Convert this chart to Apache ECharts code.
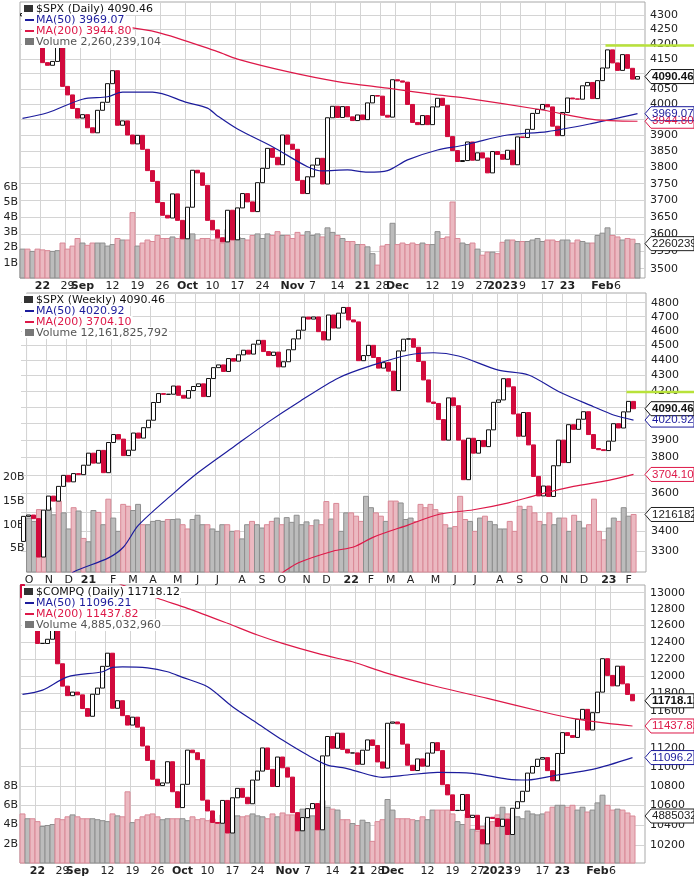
<!DOCTYPE html>
<html>
<head>
<meta charset="utf-8">
<script src="https://cdn.jsdelivr.net/npm/echarts@6/dist/echarts.min.js"></script>
<style>
  html, body { margin: 0; padding: 0; background: #fff; }
  #main { width: 694px; height: 878px; }
</style>
</head>
<body>
<div id="main"></div>
<script>
// trading calendar
const holidays = ['2022-09-05', '2022-11-24', '2022-12-26', '2023-01-02', '2023-01-16'];

// $SPX daily closes, Aug 16 2022 .. Feb 10 2023 (first open = Aug 15 close)
const spxPrevClose = 4297;
const spxClose = [
  4305, 4274, 4284, 4228,
  4137, 4128, 4141, 4199, 4058,
  4030, 3986, 3955, 3966, 3924,
  3908, 3980, 4006, 4067,
  4110, 3932, 3946, 3901, 3873,
  3900, 3856, 3790, 3757, 3693,
  3655, 3647, 3719, 3640, 3586,
  3679, 3791, 3783, 3745, 3640,
  3612, 3589, 3577, 3670, 3583,
  3677, 3720, 3695, 3666, 3753,
  3797, 3859, 3831, 3808, 3901,
  3872, 3856, 3760, 3720, 3771,
  3807, 3828, 3749, 3956, 3993,
  3957, 3992, 3959, 3947, 3965,
  3950, 4004, 4028, 4026,
  3964, 3958, 4080, 4076, 4072,
  3999, 3941, 3934, 3963, 3934,
  3991, 4019, 3996, 3896, 3852,
  3818, 3821, 3879, 3822, 3845,
  3829, 3783, 3849, 3840,
  3825, 3853, 3808, 3895,
  3893, 3919, 3970, 3983, 3999,
  3991, 3929, 3899, 3973,
  4020, 4017, 4016, 4060, 4071,
  4018, 4077, 4119, 4180, 4136,
  4111, 4164, 4118, 4082, 4090.46
];
// volume, billions
const spxVolume = [
  1.9, 1.9, 1.75, 1.9,
  1.85, 1.8, 1.75, 1.8, 2.3,
  1.9, 2.1, 2.6, 2.3, 2.15,
  2.3, 2.3, 2.3, 2.1,
  2.2, 2.6, 2.5, 2.5, 4.3,
  2.1, 2.3, 2.5, 2.4, 2.8,
  2.6, 2.6, 2.7, 2.6, 2.8,
  2.9, 2.9, 2.5, 2.6, 2.6,
  2.5, 2.6, 2.3, 3.2, 2.6,
  2.7, 2.6, 2.5, 2.8, 2.9,
  2.6, 2.9, 2.8, 3.05, 2.8,
  2.8, 2.6, 3.0, 2.8, 3.05,
  2.8, 2.9, 2.7, 3.3, 3.0,
  2.8, 2.6, 2.4, 2.4, 2.2,
  2.2, 2.05, 1.6, 0.85,
  2.1, 2.2, 3.6, 2.2, 2.3,
  2.2, 2.3, 2.2, 2.3, 2.2,
  2.2, 3.05, 2.6, 2.7, 5.0,
  2.6, 2.3, 2.2, 2.3, 1.9,
  1.5, 1.7, 1.7, 1.6,
  2.35, 2.5, 2.5, 2.4,
  2.4, 2.4, 2.5, 2.6, 2.4,
  2.5, 2.5, 2.4, 2.5,
  2.5, 2.3, 2.5, 2.4, 2.3,
  2.3, 2.8, 2.95, 3.3, 2.8,
  2.7, 2.5, 2.6, 2.55, 2.260239104
];
// moving averages, [day index, value]
const spxMa50 = [[0, 3954], [5, 3972], [12, 4016], [17, 4024], [20, 4039], [26, 4039], [33, 4005], [37, 3987],
  [39, 3962], [43, 3920], [50, 3864], [57, 3802], [60, 3789], [65, 3792], [69, 3785], [73, 3790], [77, 3823],
  [83, 3854], [88, 3868], [90, 3876], [97, 3901], [105, 3912], [114, 3938], [123, 3969.07]];
const spxMa200 = [[10, 4292], [16, 4271], [27, 4240], [39, 4174], [43, 4149], [53, 4107], [63, 4074], [73, 4052],
  [83, 4030], [89, 4019], [104, 3981], [114, 3951], [123, 3944.80]];

// $SPX weekly closes, weeks ending Oct 9 2020 .. Feb 10 2023 (first open = Oct 2 close)
const wkPrevClose = 3348;
const wkClose = [
  3477, 3484, 3465, 3270, 3510, 3585, 3558, 3638, 3699, 3663, 3709, 3703, 3756,
  3825, 3768, 3841, 3714, 3887, 3934, 3907, 3811, 3842, 3943, 3913, 3975, 4020, 4129, 4185, 4180, 4181, 4233,
  4174, 4156, 4204, 4230, 4247, 4166, 4281, 4352, 4370, 4327, 4412, 4395, 4437, 4468, 4442, 4509, 4535, 4459,
  4433, 4455, 4357, 4391, 4471, 4545, 4605, 4697, 4683, 4698, 4595, 4538, 4712, 4620, 4725, 4766,
  4677, 4663, 4398, 4432, 4501, 4419, 4349, 4385, 4329, 4204, 4463, 4543, 4546, 4488, 4393, 4272, 4132, 4123,
  4024, 3901, 4158, 4109, 3901, 3675, 3912, 3825, 3899, 3863, 3962, 4130, 4145, 4280, 4228, 4058, 3924, 4067,
  3873, 3693, 3586, 3640, 3583, 3753, 3901, 3771, 3993, 3965, 4026, 4072, 3934, 3852, 3845, 3840,
  3895, 3999, 3973, 4071, 4136, 4090.46
];
const wkVolume = [
  11.4, 10.7, 13.2, 12.5, 13.6, 12.1, 15, 12.5, 9.1, 13.6, 12.9, 7.1, 6.4,
  13, 12.6, 10, 15.4, 11.4, 8.6, 14.3, 13.9, 13, 14.3, 10, 10, 10.7, 10.9, 10.7, 11.1, 11.1, 11.2, 10, 9.1,
  11.1, 12, 10, 10, 9.1, 8.6, 10, 10, 8.6, 8.7, 7, 10, 10.7, 10, 9.3, 10, 10.7, 11.4,
  10, 11.5, 10.5, 12.0, 10.0, 10.6, 9.8, 11, 10, 14.9, 11.2, 14.5, 8.6, 12.5,
  12.5, 11.8, 10.7, 16, 13.6, 12.5, 11.8, 10.7, 15, 15, 14.6, 11.1, 11.4, 10.7, 14.3, 13.6, 14.3, 13.2, 12.5, 10,
  9.3, 9.6, 16, 11.1, 10.7, 8.6, 11.4, 11.8, 10.7, 10, 9.1, 9.1, 10.7, 8.6, 13.9, 13.2, 13.9, 12.5, 10.7, 10,
  12.5, 10, 11.4, 11.4, 8.6, 12, 10.7, 9.3, 10, 15.4, 8.6, 6.8,
  9.3, 11.4, 10.7, 13.6, 11.8, 12.161825792
];
const wkMa50 = [[9, 3170], [10, 3197], [17, 3266], [20, 3320], [23, 3431], [30, 3600], [35, 3716], [42, 3861],
  [49, 4010], [55, 4131], [63, 4285], [70, 4370], [77, 4436], [82, 4451], [87, 4429], [95, 4336], [101, 4304],
  [107, 4198], [114, 4103], [118, 4052], [122, 4020.92]];
const wkMa200 = [[51, 3180], [52, 3197], [55, 3242], [62, 3300], [66, 3320], [70, 3370], [77, 3433], [83, 3487],
  [90, 3512], [97, 3549], [103, 3593], [110, 3638], [117, 3671], [122, 3704.10]];

// $COMPQ daily closes, Aug 17 2022 .. Feb 10 2023 (first open = Aug 16 close)
const compPrevClose = 13102;
const compClose = [
  12938, 12966, 12705,
  12381, 12381, 12431, 12639, 12142,
  11884, 11776, 11816, 11785, 11631,
  11545, 11792, 11862, 12112,
  12266, 11634, 11719, 11552, 11448,
  11535, 11425, 11220, 11066, 10868,
  10802, 10829, 11052, 10738, 10576,
  10815, 11176, 11148, 11074, 10652,
  10542, 10426, 10418, 10649, 10321,
  10676, 10773, 10681, 10615, 10859,
  10953, 11199, 10971, 10792, 11102,
  10988, 10890, 10525, 10343, 10475,
  10565, 10617, 10353, 11114, 11323,
  11196, 11359, 11184, 11145, 11146,
  11025, 11175, 11286, 11226,
  11050, 10984, 11468, 11482, 11462,
  11240, 11015, 10959, 11082, 11005,
  11144, 11256, 11171, 10811, 10706,
  10546, 10548, 10710, 10476, 10498,
  10354, 10214, 10478, 10466,
  10387, 10459, 10306, 10569,
  10636, 10743, 10932, 11002, 11079,
  11096, 10958, 10852, 11140,
  11365, 11334, 11313, 11512, 11622,
  11394, 11585, 11816, 12201, 12007,
  11887, 12114, 11910, 11790, 11718.12
];
const compVolume = [
  5.1, 4.6, 4.6,
  4.3, 3.8, 3.9, 4.0, 4.6,
  4.5, 4.8, 5.0, 4.8, 4.6,
  4.6, 4.6, 4.5, 4.4,
  4.3, 5.1, 4.9, 4.8, 7.4,
  4.2, 4.5, 4.8, 5.0, 5.1,
  4.8, 4.5, 4.6, 4.6, 4.6,
  4.6, 4.4, 4.8, 4.5, 4.6,
  4.4, 4.6, 4.2, 5.0, 4.6,
  4.8, 4.9, 4.8, 4.9, 5.1,
  4.9, 4.8, 4.6, 5.1, 4.8,
  5.2, 5.0, 5.0, 4.9, 5.6,
  4.7, 4.9, 4.6, 6.5, 5.8,
  5.6, 5.5, 4.5, 4.5, 4.1,
  3.9, 4.45, 4.2, 2.25,
  4.3, 4.5, 6.6, 5.5, 4.6,
  4.6, 4.6, 4.5, 4.4, 4.8,
  4.5, 5.5, 5.5, 5.5, 5.5,
  5.1, 4.3, 4.0, 5.1, 3.5,
  3.3, 3.8, 4.2, 4.3,
  5.0, 5.8, 5.1, 4.8,
  4.8, 4.6, 5.4, 5.1, 5.0,
  5.1, 5.3, 5.8, 6.0,
  6.0, 5.8, 6.0, 5.5, 5.8,
  5.3, 5.5, 6.25, 7.05, 6.0,
  5.5, 5.6, 5.5, 5.2, 4.88503296
];
const compMa50 = [[0, 11790], [4, 11839], [9, 11991], [16, 12049], [18, 12100], [20, 12107], [25, 12095], [29, 12049],
  [32, 11985], [37, 11877], [42, 11651], [47, 11466], [52, 11284], [57, 11123], [61, 11016], [64, 10990], [66, 10964],
  [72, 10888], [77, 10912], [83, 10940], [90, 10930], [97, 10870], [101, 10860], [107, 10912], [114, 10971], [122, 11096.21]];
const compMa200 = [[18, 13150], [20, 13096], [27, 12930], [33, 12806], [41, 12623], [47, 12482], [52, 12383], [59, 12264],
  [64, 12192], [66, 12166], [73, 12031], [83, 11877], [93, 11745], [104, 11595], [110, 11521], [117, 11466], [122, 11437.82]];

// tick labels
const dailyTicks = [['2022-08-22', '22'], ['2022-08-29', '29'], ['2022-09-01', 'Sep'], ['2022-09-12', '12'],
  ['2022-09-19', '19'], ['2022-09-26', '26'], ['2022-10-03', 'Oct'], ['2022-10-10', '10'], ['2022-10-17', '17'],
  ['2022-10-24', '24'], ['2022-11-01', 'Nov'], ['2022-11-07', '7'], ['2022-11-14', '14'], ['2022-11-21', '21'],
  ['2022-11-28', '28'], ['2022-12-01', 'Dec'], ['2022-12-12', '12'], ['2022-12-19', '19'], ['2022-12-27', '27'],
  ['2023-01-03', '2023'], ['2023-01-09', '9'], ['2023-01-17', '17'], ['2023-01-23', '23'], ['2023-02-01', 'Feb'],
  ['2023-02-06', '6']];
const boldTicks = ['Sep', 'Oct', 'Nov', 'Dec', '2023', 'Feb', '21', '22', '23'];
const monthLetters = ['J', 'F', 'M', 'A', 'M', 'J', 'J', 'A', 'S', 'O', 'N', 'D'];
const spxTicks = [3500, 3550, 3600, 3650, 3700, 3750, 3800, 3850, 3900, 3950, 4000, 4050, 4100, 4150, 4200, 4250, 4300];
const wkTicks = [3300, 3400, 3500, 3600, 3700, 3800, 3900, 4000, 4100, 4200, 4300, 4400, 4500, 4600, 4700, 4800];
const compTicks = [10200, 10400, 10600, 10800, 11000, 11200, 11400, 11600, 11800, 12000, 12200, 12400, 12600, 12800, 13000];
const alertLevel = 4195;

function iso(d) { return d.toISOString().slice(0, 10); }
function tradingDays(from, to) {
  const out = [];
  const d = new Date(from + 'T00:00:00Z');
  const end = new Date(to + 'T00:00:00Z');
  while (d <= end) {
    const wd = d.getUTCDay();
    if (wd !== 0 && wd !== 6 && !holidays.includes(iso(d))) out.push(iso(d));
    d.setUTCDate(d.getUTCDate() + 1);
  }
  return out;
}
function fridays(from, to) {
  const out = [];
  const d = new Date(from + 'T00:00:00Z');
  const end = new Date(to + 'T00:00:00Z');
  while (d <= end) { out.push(iso(d)); d.setUTCDate(d.getUTCDate() + 7); }
  return out;
}
function pad(cats, n) { const c = cats.slice(); while (c.length < n) c.push('pad' + c.length); return c; }

const spxDays = tradingDays('2022-08-16', '2023-02-10');
const compDays = tradingDays('2022-08-17', '2023-02-10');
const weeks = fridays('2020-10-09', '2023-02-10');
const dailyTickMap = Object.fromEntries(dailyTicks);
const weekTickMap = {};
weeks.forEach((w, i) => {
  const m = +w.slice(5, 7);
  if (i === 0 || m !== +weeks[i - 1].slice(5, 7)) weekTickMap[w] = m === 1 ? w.slice(2, 4) : monthLetters[m - 1];
});

const RED = '#d10a3c', NAVY = '#1c1c9c', MARED = '#dd1848';
const FONT = 'DejaVu Sans';

function candles(prev, close) {
  return close.map((c, i) => {
    const o = i === 0 ? prev : close[i - 1];
    return [o, c, Math.min(o, c), Math.max(o, c)];
  });
}
function vols(prev, close, vol) {
  return vol.map((v, i) => {
    const up = close[i] >= (i === 0 ? prev : close[i - 1]);
    return { value: v, itemStyle: up ? { color: '#bcbcbc', borderColor: '#8e8e8e' } : { color: '#ebb9c1', borderColor: '#d98896' } };
  });
}

const grids = [], xAxes = [], yAxes = [], series = [], panels = [];
function panel(p) {
  const gp = grids.length, gv = gp + 1;
  p.gp = gp; p.gv = gv;
  panels.push(p);
  const g = { left: p.left, right: p.right, top: p.top, height: p.height };
  grids.push(Object.assign({}, g));
  grids.push(Object.assign({ show: true, borderColor: '#a8a8a8', borderWidth: 1, backgroundColor: 'transparent' }, g));
  const cats = pad(p.cats, 125);
  const isTick = (i, v) => p.tickMap[v] !== undefined;
  xAxes.push({ gridIndex: gp, type: 'category', data: cats, show: false, boundaryGap: true });
  xAxes.push({
    gridIndex: gv, type: 'category', data: cats, boundaryGap: true,
    axisLine: { show: false }, axisTick: { show: false },
    splitLine: { show: true, interval: isTick, lineStyle: { color: '#d4d4d4', width: 1 } },
    axisLabel: {
      interval: isTick, margin: 3, fontFamily: FONT, fontSize: 11, color: '#222',
      formatter: v => { const t = p.tickMap[v]; return boldTicks.includes(t) ? '{b|' + t + '}' : t; },
      rich: { b: { fontWeight: 'bold', fontFamily: FONT, fontSize: 11, color: '#222' } }
    }
  });
  yAxes.push({
    gridIndex: gp, type: 'log', logBase: 10, position: 'right', min: p.min, max: p.max,
    axisLine: { show: false }, axisTick: { show: false, customValues: p.ticks },
    splitLine: { show: true, lineStyle: { color: '#d4d4d4' } },
    axisLabel: { customValues: p.ticks, formatter: v => String(Math.round(v)), margin: 5, fontFamily: FONT, fontSize: 11, color: '#222' }
  });
  yAxes.push({
    gridIndex: gv, type: 'value', position: 'left', min: 0, max: p.vmax,
    axisLine: { show: false }, axisTick: { show: false, customValues: p.vticks }, splitLine: { show: false },
    axisLabel: { customValues: p.vticks, formatter: v => v + 'B', margin: 2, fontFamily: FONT, fontSize: 11, color: '#222' }
  });
  series.push({
    type: 'bar', xAxisIndex: gv, yAxisIndex: gv, barCategoryGap: '0%', z: 1,
    data: vols(p.prev, p.close, p.vol), animation: false
  });
  series.push({
    type: 'candlestick', xAxisIndex: gp, yAxisIndex: gp, barWidth: 4, z: 3, animation: false,
    itemStyle: { color: '#fff', color0: RED, borderColor: '#111', borderColor0: RED, borderWidth: 1 },
    data: candles(p.prev, p.close)
  });
  [[p.ma50, NAVY], [p.ma200, MARED]].forEach(([d, c]) => {
    series.push({
      type: 'line', xAxisIndex: gp, yAxisIndex: gp, data: d, smooth: 0.3, showSymbol: false,
      symbol: 'none', lineStyle: { color: c, width: 1.2 }, z: 4, animation: false, clip: true
    });
  });
}

panel({ left: 20, right: 49, top: 2, height: 276, cats: spxDays, tickMap: dailyTickMap,
  min: 3473.7, max: 4345.6, ticks: spxTicks, vmax: 18.16, vticks: [1, 2, 3, 4, 5, 6],
  prev: spxPrevClose, close: spxClose, vol: spxVolume, ma50: spxMa50, ma200: spxMa200,
  lastText: '4090.46', volText: '2260239104', alertFrom: '2023-02-02',
  legend: ['$SPX (Daily) 4090.46', 'MA(50) 3969.07', 'MA(200) 3944.80', 'Volume 2,260,239,104'] });
panel({ left: 21, right: 48, top: 293, height: 279, cats: weeks, tickMap: weekTickMap,
  min: 3197, max: 4871, ticks: wkTicks, vmax: 59, vticks: [5, 10, 15, 20],
  prev: wkPrevClose, close: wkClose, vol: wkVolume, ma50: wkMa50, ma200: wkMa200,
  lastText: '4090.46', volText: '12161825792', alertFrom: '2023-02-03',
  legend: ['$SPX (Weekly) 4090.46', 'MA(50) 4020.92', 'MA(200) 3704.10', 'Volume 12,161,825,792'] });
panel({ left: 20, right: 49, top: 585, height: 278, cats: compDays, tickMap: dailyTickMap,
  min: 10028, max: 13096, ticks: compTicks, vmax: 28.9, vticks: [2, 4, 6, 8],
  prev: compPrevClose, close: compClose, vol: compVolume, ma50: compMa50, ma200: compMa200,
  lastText: '11718.12', volText: '4885032960',
  legend: ['$COMPQ (Daily) 11718.12', 'MA(50) 11096.21', 'MA(200) 11437.82', 'Volume 4,885,032,960'] });

const chart = echarts.init(document.getElementById('main'), null, { renderer: 'canvas' });
chart.setOption({
  backgroundColor: '#fff',
  animation: false,
  grid: grids, xAxis: xAxes, yAxis: yAxes, series: series
});

// overlays placed through the axes' own scales
function tagAt(y, text, color, bold) {
  return [
    { type: 'polygon', shape: { points: [[645, y], [651, y - 7], [694, y - 7], [694, y + 7], [651, y + 7]] },
      style: { fill: '#fff', stroke: color, lineWidth: 1 }, z: 20 },
    { type: 'text', x: 652, y: y - 6, style: { text: text, fill: color,
      font: (bold ? 'bold ' : '') + '11.5px "Liberation Sans"' }, z: 21 }
  ];
}
function legend(x, y, lines) {
  const st = (t, c) => ({ text: t, fill: c, font: '11px "DejaVu Sans"', backgroundColor: '#fff', padding: [1, 1, 0, 1] });
  return [
    { type: 'rect', shape: { x: x - 2, y: y, width: 14, height: 44 }, style: { fill: '#fff' }, z: 10 },
    { type: 'rect', shape: { x: x, y: y + 2, width: 9, height: 7 }, style: { fill: '#333' }, z: 11 },
    { type: 'text', x: x + 11, y: y, style: st(lines[0], '#111'), z: 10 },
    { type: 'line', shape: { x1: x + 1, y1: y + 17, x2: x + 10, y2: y + 17 }, style: { stroke: NAVY, lineWidth: 2 }, z: 11 },
    { type: 'text', x: x + 11, y: y + 11, style: st(lines[1], NAVY), z: 10 },
    { type: 'line', shape: { x1: x + 1, y1: y + 28, x2: x + 10, y2: y + 28 }, style: { stroke: MARED, lineWidth: 2 }, z: 11 },
    { type: 'text', x: x + 11, y: y + 22, style: st(lines[2], MARED), z: 10 },
    { type: 'rect', shape: { x: x + 1, y: y + 35, width: 9, height: 7 }, style: { fill: '#777' }, z: 11 },
    { type: 'text', x: x + 11, y: y + 33, style: st(lines[3], '#555'), z: 10 }
  ];
}
let overlays = [];
panels.forEach(p => {
  const py = v => chart.convertToPixel({ yAxisIndex: p.gp }, v);
  const vy = v => chart.convertToPixel({ yAxisIndex: p.gv }, v);
  overlays = overlays.concat(legend(24, p.top + 1, p.legend));
  if (p.alertFrom) {
    const x0 = chart.convertToPixel({ xAxisIndex: p.gp }, p.alertFrom);
    const y0 = py(alertLevel);
    overlays.push({ type: 'line', shape: { x1: x0 - 2, y1: y0, x2: 694, y2: y0 }, style: { stroke: '#b8e23a', lineWidth: 2.5 }, z: 12 });
  }
  overlays = overlays.concat(tagAt(vy(p.vol[p.vol.length - 1]), p.volText, '#222', false));
  const m200 = p.ma200[p.ma200.length - 1][1], m50 = p.ma50[p.ma50.length - 1][1];
  overlays = overlays.concat(tagAt(py(m200), m200.toFixed(2), MARED, false));
  overlays = overlays.concat(tagAt(py(m50), m50.toFixed(2), NAVY, false));
  overlays = overlays.concat(tagAt(py(p.close[p.close.length - 1]), p.lastText, '#111', true));
});
chart.setOption({ graphic: overlays });
</script>
</body>
</html>
